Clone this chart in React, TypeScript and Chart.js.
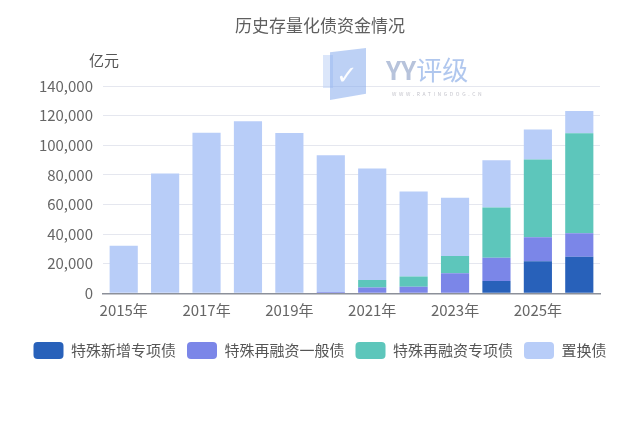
import React, { useEffect, useRef } from "react";
import { Chart, registerables } from "chart.js";

Chart.register(...registerables);

const years = ["2015年", "2016年", "2017年", "2018年", "2019年", "2020年", "2021年", "2022年", "2023年", "2024年", "2025年", "2026年"];
const seriesNames = ["特殊新增专项债", "特殊再融资一般债", "特殊再融资专项债", "置换债"];
const newSpecial = [0, 0, 0, 0, 0, 0, 0, 0, 0, 8300, 21600, 24700];
const refiGeneral = [0, 0, 0, 0, 0, 900, 4000, 4500, 13500, 15700, 16200, 15800];
const refiSpecial = [0, 0, 0, 0, 0, 0, 5000, 6800, 11700, 34000, 52600, 67600];
const replacement = [32100, 80900, 108500, 116200, 108300, 92400, 75300, 57500, 39300, 31900, 20200, 15000];
const yTicks = [0, 20000, 40000, 60000, 80000, 100000, 120000, 140000];
const colors = ["#2861BA", "#7B86E8", "#5DC6BB", "#B8CDF8"];

const FONT = "'Noto Sans CJK SC', 'Noto Sans', sans-serif";

export default function App() {
  const ref = useRef<HTMLCanvasElement | null>(null);

  useEffect(() => {
    if (!ref.current) return;
    const values = [newSpecial, refiGeneral, refiSpecial, replacement];
    const chart = new Chart(ref.current, {
      type: "bar",
      data: {
        labels: years,
        datasets: seriesNames.map((name, i) => ({
          label: name,
          data: values[i],
          backgroundColor: colors[i],
          borderWidth: 0,
          barPercentage: 0.68,
          categoryPercentage: 1,
        })),
      },
      options: {
        responsive: false,
        animation: false,
        devicePixelRatio: 1,
        layout: { padding: { left: 0, right: 0, top: 86, bottom: 67 } },
        plugins: {
          title: { display: false },
          tooltip: { enabled: false },
          legend: {
            position: "bottom",
            labels: {
              boxWidth: 30,
              boxHeight: 17,
              padding: 11,
              useBorderRadius: true,
              borderRadius: 4,
              color: "#555",
              font: { size: 15, family: FONT },
            },
          },
        },
        scales: {
          x: {
            stacked: true,
            grid: { display: false, drawTicks: false },
            border: { display: true, color: "#8c9099", width: 1.5 },
            ticks: {
              autoSkip: false,
              maxRotation: 0,
              padding: 8,
              color: "#666",
              font: { size: 15, family: FONT },
              callback: (_v: any, i: number) => (i % 2 === 0 ? years[i] : ""),
            },
            afterFit: (s: any) => {
              s.height = 37.7;
            },
          },
          y: {
            stacked: true,
            min: yTicks[0],
            max: yTicks[yTicks.length - 1],
            grid: { color: "#e5e7ef", drawTicks: false },
            border: { display: false },
            ticks: {
              stepSize: yTicks[1] - yTicks[0],
              padding: 10,
              color: "#666",
              font: { size: 15, family: FONT },
              callback: (v: any) => Number(v).toLocaleString("en-US"),
            },
            afterFit: (s: any) => {
              s.width = 103;
            },
          },
          yRight: {
            position: "right",
            display: true,
            grid: { display: false, drawTicks: false },
            border: { display: false },
            ticks: { display: false },
            afterFit: (s: any) => {
              s.width = 40;
            },
          },
        },
      },
    } as any);
    return () => chart.destroy();
  }, []);

  return (
    <div style={{ position: "fixed", left: 0, top: 0, width: 640, height: 436, background: "#fff", overflow: "hidden" }}>
      <canvas ref={ref} width={640} height={436} style={{ position: "absolute", left: 0, top: 0, width: 640, height: 436 }} />
      <div style={{ position: "absolute", left: 0, top: 14, width: 640, textAlign: "center", fontFamily: FONT, fontSize: 17, lineHeight: "22px", color: "#5f5f5f" }}>
        历史存量化债资金情况
      </div>
      <div style={{ position: "absolute", left: 89, top: 50, fontFamily: FONT, fontSize: 15, lineHeight: "20px", color: "#555" }}>亿元</div>
      {/* watermark */}
      <div style={{ position: "absolute", left: 323, top: 55, width: 10, height: 33, background: "rgba(190,210,245,0.55)" }} />
      <div
        style={{
          position: "absolute",
          left: 330,
          top: 48,
          width: 36,
          height: 52,
          background: "rgba(135,172,236,0.55)",
          clipPath: "polygon(0 8%, 100% 0, 100% 88%, 0 100%)",
        }}
      />
      <div style={{ position: "absolute", left: 336, top: 60, fontFamily: "'DejaVu Sans', sans-serif", fontSize: 26, lineHeight: "30px", color: "rgba(255,255,255,0.95)", fontWeight: 700 }}>✓</div>
      <div style={{ position: "absolute", left: 386, top: 54, fontFamily: FONT, fontSize: 26, lineHeight: "30px", color: "rgba(150,180,232,0.75)", whiteSpace: "nowrap" }}>
        <span style={{ color: "rgba(165,180,210,0.8)", fontWeight: 700 }}>YY</span>评级
      </div>
      <div style={{ position: "absolute", left: 392, top: 90, fontFamily: FONT, fontSize: 5, letterSpacing: 2.6, lineHeight: "7px", color: "rgba(180,180,190,0.8)", whiteSpace: "nowrap" }}>
        WWW.RATINGDOG.CN
      </div>
    </div>
  );
}
